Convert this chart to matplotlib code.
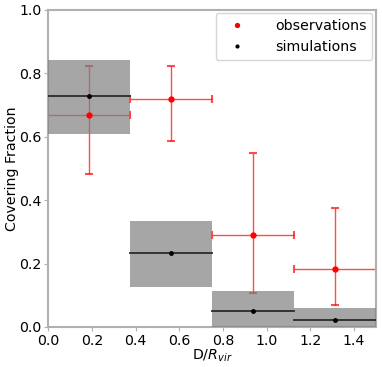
import numpy as np
import matplotlib
matplotlib.use("Agg")
import matplotlib.pyplot as plt

# bins in D/Rvir
bin_edges = [0.0, 0.375, 0.75, 1.125, 1.5]
bin_mid = [0.1875, 0.5625, 0.9375, 1.3125]

# simulations: median and 16-84 range
sim_med = [0.727, 0.232, 0.050, 0.022]
sim_lo = [0.609, 0.126, 0.0, 0.0]
sim_hi = [0.843, 0.335, 0.114, 0.059]

# observations
obs_cf = [0.667, 0.718, 0.289, 0.184]
obs_lo = [0.482, 0.586, 0.107, 0.069]
obs_hi = [0.822, 0.824, 0.548, 0.375]

fig = plt.figure(figsize=(3.82, 3.67), dpi=100)
ax = fig.add_axes([0.126, 0.109, 0.858, 0.864])

fs = 10.2

obs_cf = np.array(obs_cf)
yerr = [obs_cf - np.array(obs_lo), np.array(obs_hi) - obs_cf]
xerr = [np.array(bin_mid) - np.array(bin_edges[:-1]),
        np.array(bin_edges[1:]) - np.array(bin_mid)]
ax.errorbar(bin_mid, obs_cf, yerr=yerr, xerr=xerr, fmt='none', ecolor='red',
            elinewidth=1.0, capsize=3, capthick=1.5, alpha=0.7, zorder=2)
ax.plot(bin_mid, obs_cf, 'o', color='red', ms=3.5, zorder=4, label='observations')

for i in range(len(bin_mid)):
    x0, x1 = bin_edges[i], bin_edges[i + 1]
    ax.fill_between([x0, x1], sim_lo[i], sim_hi[i], color='gray', alpha=0.7,
                    lw=0, zorder=3)
    ax.plot([x0, x1], [sim_med[i], sim_med[i]], color='#2a2a2a', lw=1.3, zorder=3.5)
ax.plot(bin_mid, sim_med, 'o', color='black', ms=2.5, zorder=5, label='simulations')

ax.set_xlim(0, 1.5)
ax.set_ylim(0, 1.0)
ax.set_xticks([0.0, 0.2, 0.4, 0.6, 0.8, 1.0, 1.2, 1.4])
ax.set_yticks([0.0, 0.2, 0.4, 0.6, 0.8, 1.0])
ax.tick_params(labelsize=fs, color='#b0b0b0', length=3, pad=2)
for s in ax.spines.values():
    s.set_color('#b0b0b0')
    s.set_linewidth(1.5)
ax.set_xlabel(r'D/$R_{vir}$', fontsize=fs, labelpad=0)
ax.set_ylabel('Covering Fraction', fontsize=fs, labelpad=0)

ax.legend(loc='upper right', fontsize=fs, markerscale=0.8, handlelength=2.2,
          handletextpad=1.6, borderaxespad=0.25, framealpha=0.8)

fig.savefig('out.png', dpi=100)
